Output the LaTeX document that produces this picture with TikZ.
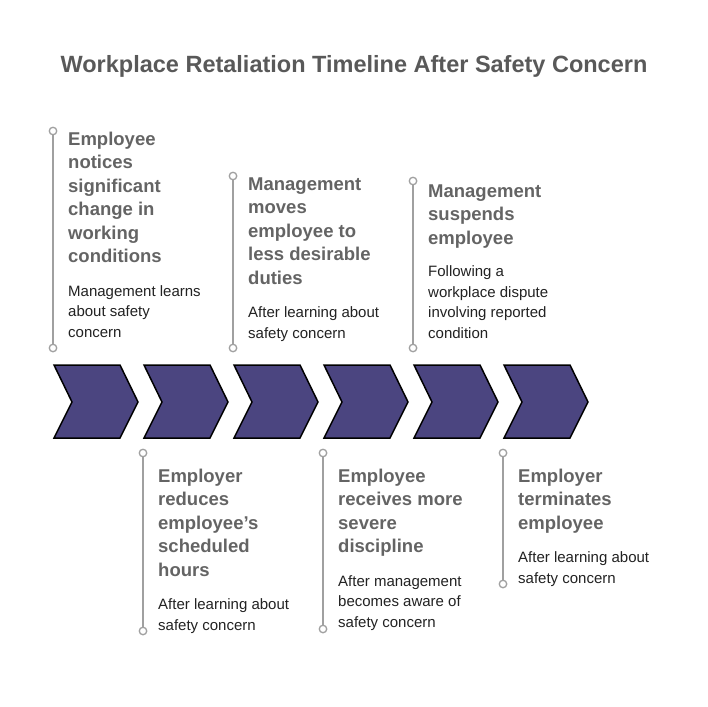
\documentclass[tikz,border=0pt]{standalone}
\usepackage{fontspec}
\setmainfont{Liberation Sans}
\usepackage{tikz}
\usetikzlibrary{positioning}
\definecolor{chevfill}{HTML}{4B4580}
\definecolor{headgray}{HTML}{595959}
\definecolor{stepgray}{HTML}{646464}
\definecolor{textgray}{HTML}{222222}
\definecolor{wiregray}{HTML}{A0A0A0}
\tikzset
{
	chevron/.style   = {draw=black, fill=chevfill, line width=1.5pt, line join=miter},
	stepdot/.style   = {circle, draw=wiregray, fill=white, line width=1.3pt, minimum size=7.5pt, inner sep=0pt},
	stepline/.style  = {draw=wiregray, line width=2.4pt},
	steptitle/.style = {anchor=base west, align=left, inner sep=0pt, text=stepgray, font=\bfseries\fontsize{18.5}{23.5}\selectfont},
	steptext/.style  = {anchor=base west, align=left, inner sep=0pt, text=textgray, font=\fontsize{15}{20.5}\selectfont}
}

\begin{document}
\begin{tikzpicture}[x=1pt, y=-1pt]
\useasboundingbox[fill=white] (0,0) rectangle (708,706);
\node[anchor=base, inner sep=0pt, text=headgray, font=\bfseries\fontsize{23.5}{28}\selectfont] (heading) at (354,73) {Workplace Retaliation Timeline After Safety Concern};

% chevrons
\foreach \i in {0,...,5}
  \draw[chevron] ({54+90*\i},365) -- ++(66,0) -- ++(18,37) -- ++(-18,36) -- ++(-66,0) -- ++(18,-36) -- cycle;

% steps above (text placed by its last baseline)
\node[stepdot] (top1) at (53,131) {};
\node[stepdot] (bot1) at (53,348) {};
\draw[stepline] (top1) -- (bot1);
\node[steptitle] (title1) at (68,262.5) {Employee\\notices\\significant\\change in\\working\\conditions};
\node[steptext] (text1) at (68,337) {Management learns\\about safety\\concern};

\node[stepdot] (top3) at (233,176) {};
\node[stepdot] (bot3) at (233,348) {};
\draw[stepline] (top3) -- (bot3);
\node[steptitle] (title3) at (248,284) {Management\\moves\\employee to\\less desirable\\duties};
\node[steptext] (text3) at (248,338) {After learning about\\safety concern};

\node[stepdot] (top5) at (413,181) {};
\node[stepdot] (bot5) at (413,348) {};
\draw[stepline] (top5) -- (bot5);
\node[steptitle] (title5) at (428,244) {Management\\suspends\\employee};
\node[steptext] (text5) at (428,338) {Following a\\workplace dispute\\involving reported\\condition};

% steps below
\node[stepdot] (top2) at (143,453) {};
\node[stepdot] (bot2) at (143,631) {};
\draw[stepline] (top2) -- (bot2);
\node[steptitle] (title2) at (158,576) {Employer\\reduces\\employee’s\\scheduled\\hours};
\node[steptext] (text2) at (158,630) {After learning about\\safety concern};

\node[stepdot] (top4) at (323,453) {};
\node[stepdot] (bot4) at (323,629) {};
\draw[stepline] (top4) -- (bot4);
\node[steptitle] (title4) at (338,552.5) {Employee\\receives more\\severe\\discipline};
\node[steptext] (text4) at (338,627) {After management\\becomes aware of\\safety concern};

\node[stepdot] (top6) at (503,453) {};
\node[stepdot] (bot6) at (503,584) {};
\draw[stepline] (top6) -- (bot6);
\node[steptitle] (title6) at (518,529) {Employer\\terminates\\employee};
\node[steptext] (text6) at (518,583) {After learning about\\safety concern};
\end{tikzpicture}
\end{document}
